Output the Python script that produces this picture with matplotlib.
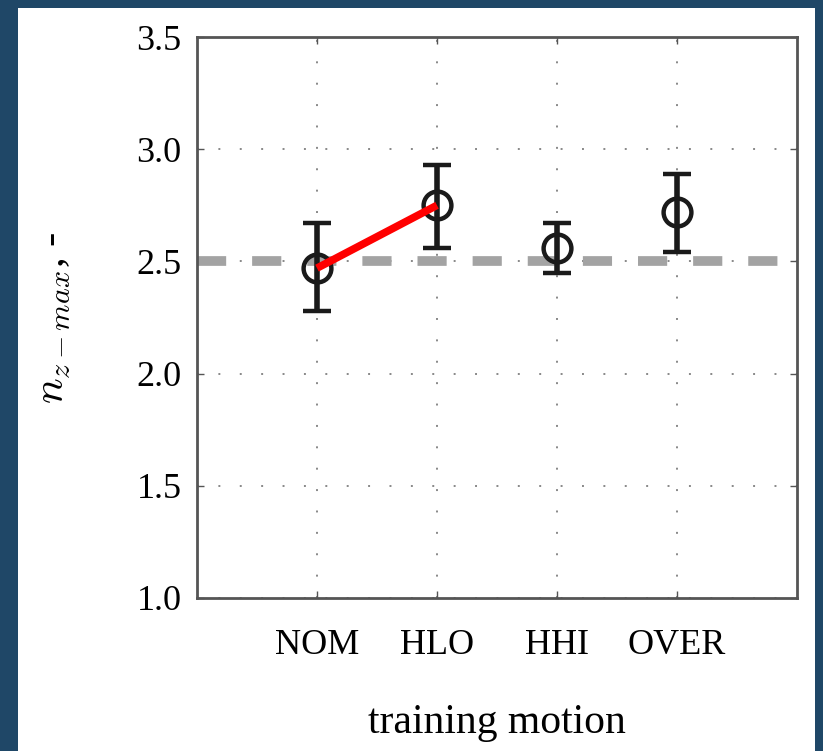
import matplotlib
matplotlib.use("Agg")
import matplotlib.pyplot as plt
from matplotlib.patches import Rectangle

categories = ["NOM", "HLO", "HHI", "OVER"]
means = [2.47, 2.75, 2.56, 2.72]
upper = [2.67, 2.93, 2.67, 2.89]
lower = [2.28, 2.56, 2.45, 2.54]
reference_level = 2.5
highlight_pair = ["NOM", "HLO"]
yticks = [1.0, 1.5, 2.0, 2.5, 3.0, 3.5]

plt.rcParams['font.family'] = ['Liberation Serif', 'DejaVu Serif']
plt.rcParams['mathtext.fontset'] = 'cm'

W, H = 823, 751
fig = plt.figure(figsize=(W/100, H/100), dpi=100)
fig.patch.set_facecolor('#1f4767')
fig.add_artist(Rectangle((18/W, 0), (815-18)/W, (H-8)/H, transform=fig.transFigure,
                         facecolor='white', edgecolor='none', zorder=0))

ax = fig.add_axes([197/W, 1-598/H, (797-197)/W, (598-37)/H])
x = list(range(1, len(categories)+1))

ax.axhline(reference_level, color='#a3a3a3', lw=7, dashes=(3.0, 2.67), zorder=2)
yerr = [[m - l for m, l in zip(means, lower)], [u - m for u, m in zip(upper, means)]]
ax.errorbar(x, means, yerr=yerr, fmt='o', mfc='none', mec='#1a1a1a', mew=3.2,
            ms=20, ecolor='#1a1a1a', elinewidth=4, capsize=10, capthick=4.5, zorder=3)
i0, i1 = categories.index(highlight_pair[0]), categories.index(highlight_pair[1])
ax.plot([x[i0], x[i1]], [means[i0], means[i1]], color='#ff0000', lw=5.5,
        solid_capstyle='butt', zorder=4)

ax.set_xlim(0, 5)
ax.set_ylim(1.0, 3.5)
ax.set_xticks(x)
ax.set_xticklabels(categories, fontsize=26)
ax.set_yticks(yticks)
ax.set_yticklabels([f"{v:.1f}" for v in yticks], fontsize=26)
ax.grid(True, color='#888888', linestyle=(0, (1, 10)), lw=1.4)
ax.tick_params(direction='in', length=5, width=1, top=True, right=True, color='#555555')
ax.tick_params(axis='x', pad=22)
ax.tick_params(axis='y', pad=11)
for s in ax.spines.values():
    s.set_color('#555555')
    s.set_linewidth(2)
ax.set_xlabel("training motion", fontsize=30, labelpad=30)
ax.set_ylabel(r"$n_{z-max}$, -", fontsize=31, labelpad=46)

fig.savefig("out.png", dpi=100, facecolor=fig.get_facecolor())
